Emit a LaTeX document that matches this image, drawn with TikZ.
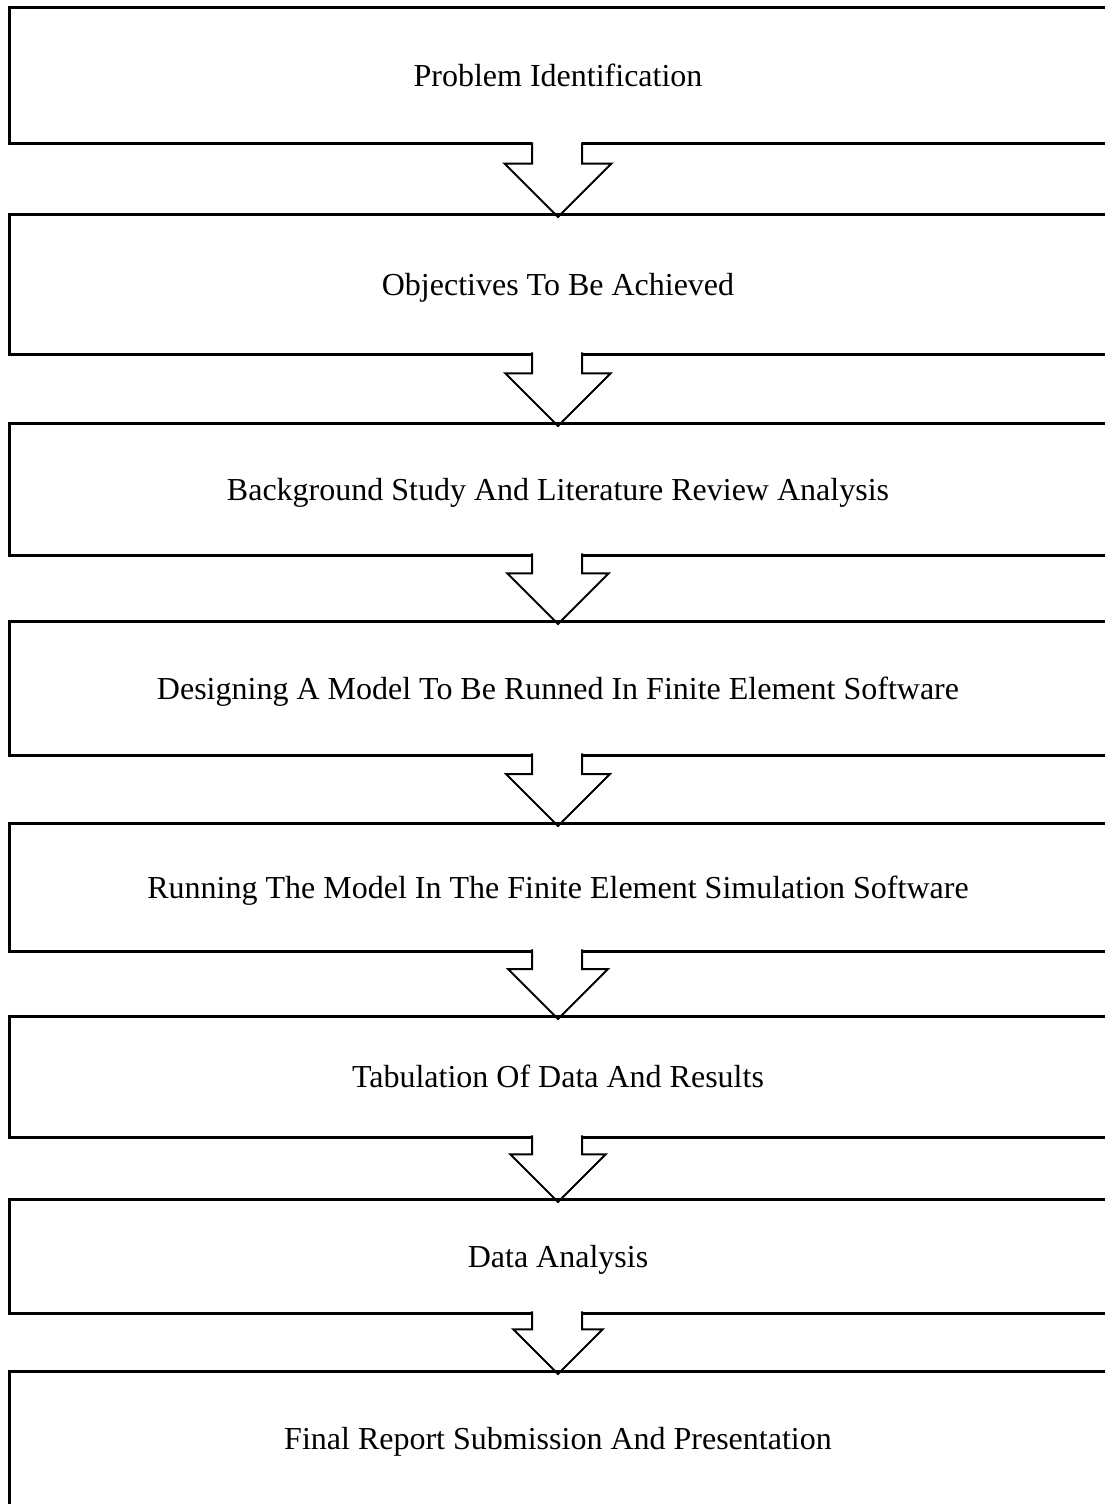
\documentclass[tikz,border=0pt]{standalone}
\usepackage{fontspec}
\setmainfont{Liberation Serif}
\usepackage{tikz}
\usetikzlibrary{calc}

\begin{document}
\begin{tikzpicture}[x=0.5pt,y=-0.5pt,
            stepbox/.style={draw=black, line width=1.5pt, rectangle, outer sep=0pt,
                minimum width=549pt, anchor=north west, align=center,
                text height=11pt, text depth=0pt,
                font=\fontsize{16}{19}\selectfont},
            blockarrow/.style={draw=black, line width=1pt, line join=miter},
        ]
        \useasboundingbox (0,0) rectangle (1104,1504);
        % steps
        \node[stepbox, minimum height=68pt] (p1) at (9,8) {Problem Identification};
        \node[stepbox, minimum height=70pt] (p2) at (9,214) {Objectives To Be Achieved};
        \node[stepbox, minimum height=66pt] (p3) at (9,423) {Background Study And  Literature Review Analysis};
        \node[stepbox, minimum height=67pt] (p4) at (9,621) {Designing A Model To Be Runned In Finite Element Software};
        \node[stepbox, minimum height=64pt] (p5) at (9,823) {Running The Model In The Finite Element Simulation Software};
        \node[stepbox, minimum height=60.5pt] (p6) at (9,1016) {Tabulation Of Data And Results};
        \node[stepbox, minimum height=57pt] (p7) at (9,1199) {Data Analysis};
        \node[stepbox, minimum height=67pt] (p8) at (9,1371) {Final Report Submission And Presentation};
        % block arrows between steps
        \foreach \a/\b in {p1/p2,p2/p3,p3/p4,p4/p5,p5/p6,p6/p7,p7/p8}{
            \coordinate (s) at ($(\a.south)!0.28!(\b.north)$);
            \coordinate (t) at ([yshift=-1.5pt]\b.north);
            \fill[white] let \p1=(\a.south), \p2=(s) in
                (\x1-13pt,\y1+1pt) rectangle (\x1+12pt,\y2);
            \draw[blockarrow] let \p1=(\a.south), \p2=(s), \p3=(t), \n1={\y2-\y3} in
                (\x1-13pt,\y1+0.8pt) -- (\x1-13pt,\y2) -- ({\x1-\n1},\y2) -- (\p3)
                -- ({\x1+\n1},\y2) -- (\x1+12pt,\y2) -- (\x1+12pt,\y1+0.8pt);
        }
    \end{tikzpicture}
\end{document}
